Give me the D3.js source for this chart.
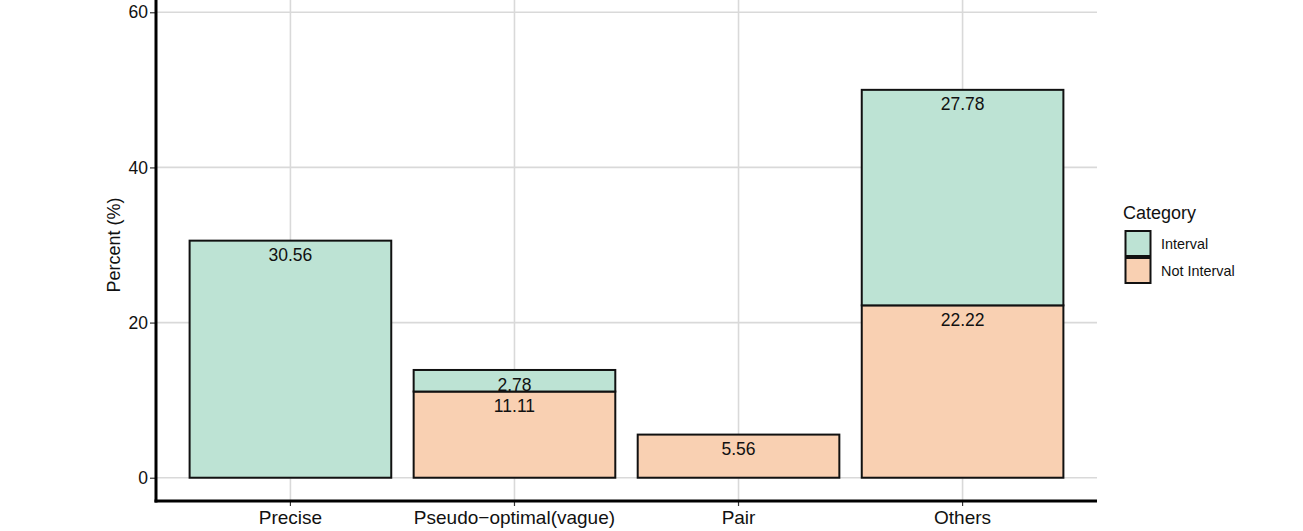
<!DOCTYPE html>
<html><head><meta charset="utf-8">
<script src="https://cdn.jsdelivr.net/npm/d3@7"></script>
<style>body{margin:0;background:#fff}svg{display:block}text{font-family:"Liberation Sans",Arial,sans-serif}</style>
</head><body><svg id="c" width="1303" height="531"></svg>
<script>
const categories = ["Precise","Pseudo\u2212optimal(vague)","Pair","Others"];
const seriesNames = ["Interval","Not Interval"];
const intervalVals = [30.56, 2.78, 0, 27.78];
const notIntervalVals = [0, 11.11, 5.56, 22.22];
const yTicks = [0,20,40,60];
const colors = {"Interval":"#bde3d4","Not Interval":"#f9d0b2"};

const svg = d3.select("#c");
const pLeft = 156, pRight = 1097, pTop = -11, pBottom = 501;
const x = d3.scaleBand().domain(categories).range([pLeft,pRight]).paddingInner(0.1).paddingOuter(0.15);
const xc = d => x(d) + x.bandwidth()/2;
const y = d3.scaleLinear().domain([-3,63]).range([pBottom,pTop]);

// grid
svg.append("g").selectAll("line").data(yTicks).join("line")
  .attr("x1",pLeft).attr("x2",pRight).attr("y1",d=>y(d)).attr("y2",d=>y(d))
  .attr("stroke","#d9d9d9").attr("stroke-width",1.6);
svg.append("g").selectAll("line").data(categories).join("line")
  .attr("x1",d=>xc(d)).attr("x2",d=>xc(d)).attr("y1",pTop).attr("y2",pBottom)
  .attr("stroke","#d9d9d9").attr("stroke-width",1.6);

// stacked data: Not Interval bottom, Interval top
const rows = categories.map((c,i)=>({cat:c,"Not Interval":notIntervalVals[i],"Interval":intervalVals[i]}));
const stack = d3.stack().keys(["Not Interval","Interval"])(rows);
const segs = [];
stack.forEach(s=>s.forEach(d=>{ if(d[1]-d[0]>0) segs.push({key:s.key,cat:d.data.cat,y0:d[0],y1:d[1],v:d[1]-d[0]}); }));

svg.append("g").selectAll("rect").data(segs).join("rect")
  .attr("x",d=>x(d.cat)).attr("width",x.bandwidth())
  .attr("y",d=>y(d.y1)).attr("height",d=>y(d.y0)-y(d.y1))
  .attr("fill",d=>colors[d.key]).attr("stroke","#111").attr("stroke-width",2);

svg.append("g").selectAll("text").data(segs).join("text")
  .attr("x",d=>xc(d.cat)).attr("y",d=>y(d.y1)+14.5).attr("dy","0.35em")
  .attr("text-anchor","middle").attr("font-size",17.5).attr("fill","#111")
  .text(d=>d.v.toFixed(2));

// axes
const ya = svg.append("g").attr("transform",`translate(${pLeft},0)`)
  .call(d3.axisLeft(y).tickValues(yTicks).tickSize(6).tickPadding(2));
ya.select(".domain").remove();
ya.selectAll(".tick line").attr("stroke","#333").attr("stroke-width",1.2);
ya.selectAll(".tick text").attr("font-size",17.5).attr("fill","#111").attr("font-family","Liberation Sans, Arial, sans-serif");
const xa = svg.append("g").attr("transform",`translate(0,${pBottom})`)
  .call(d3.axisBottom(x).tickSize(5).tickPadding(5));
xa.select(".domain").remove();
xa.selectAll(".tick line").attr("stroke","#333").attr("stroke-width",1.2);
xa.selectAll(".tick text").attr("font-size",19).attr("fill","#111").attr("font-family","Liberation Sans, Arial, sans-serif");

svg.append("line").attr("x1",pLeft).attr("x2",pLeft).attr("y1",pTop).attr("y2",pBottom+1.5).attr("stroke","#000").attr("stroke-width",3);
svg.append("line").attr("x1",pLeft-1.5).attr("x2",pRight).attr("y1",pBottom).attr("y2",pBottom).attr("stroke","#000").attr("stroke-width",3);

svg.append("text").attr("transform",`translate(120,${(pTop+pBottom)/2}) rotate(-90)`).attr("text-anchor","middle")
  .attr("font-size",18).attr("fill","#111").text("Percent (%)");

// legend
const lg = svg.append("g");
lg.append("text").attr("x",1123).attr("y",219).attr("font-size",18).attr("fill","#111").text("Category");
seriesNames.forEach((s,i)=>{
  lg.append("rect").attr("x",1125.5).attr("y",231+i*27).attr("width",25).attr("height",25)
    .attr("fill",colors[s]).attr("stroke","#111").attr("stroke-width",2);
  lg.append("text").attr("x",1161).attr("y",244+i*27).attr("dy","0.35em").attr("font-size",14.4).attr("fill","#111").text(s);
});
</script></body></html>
